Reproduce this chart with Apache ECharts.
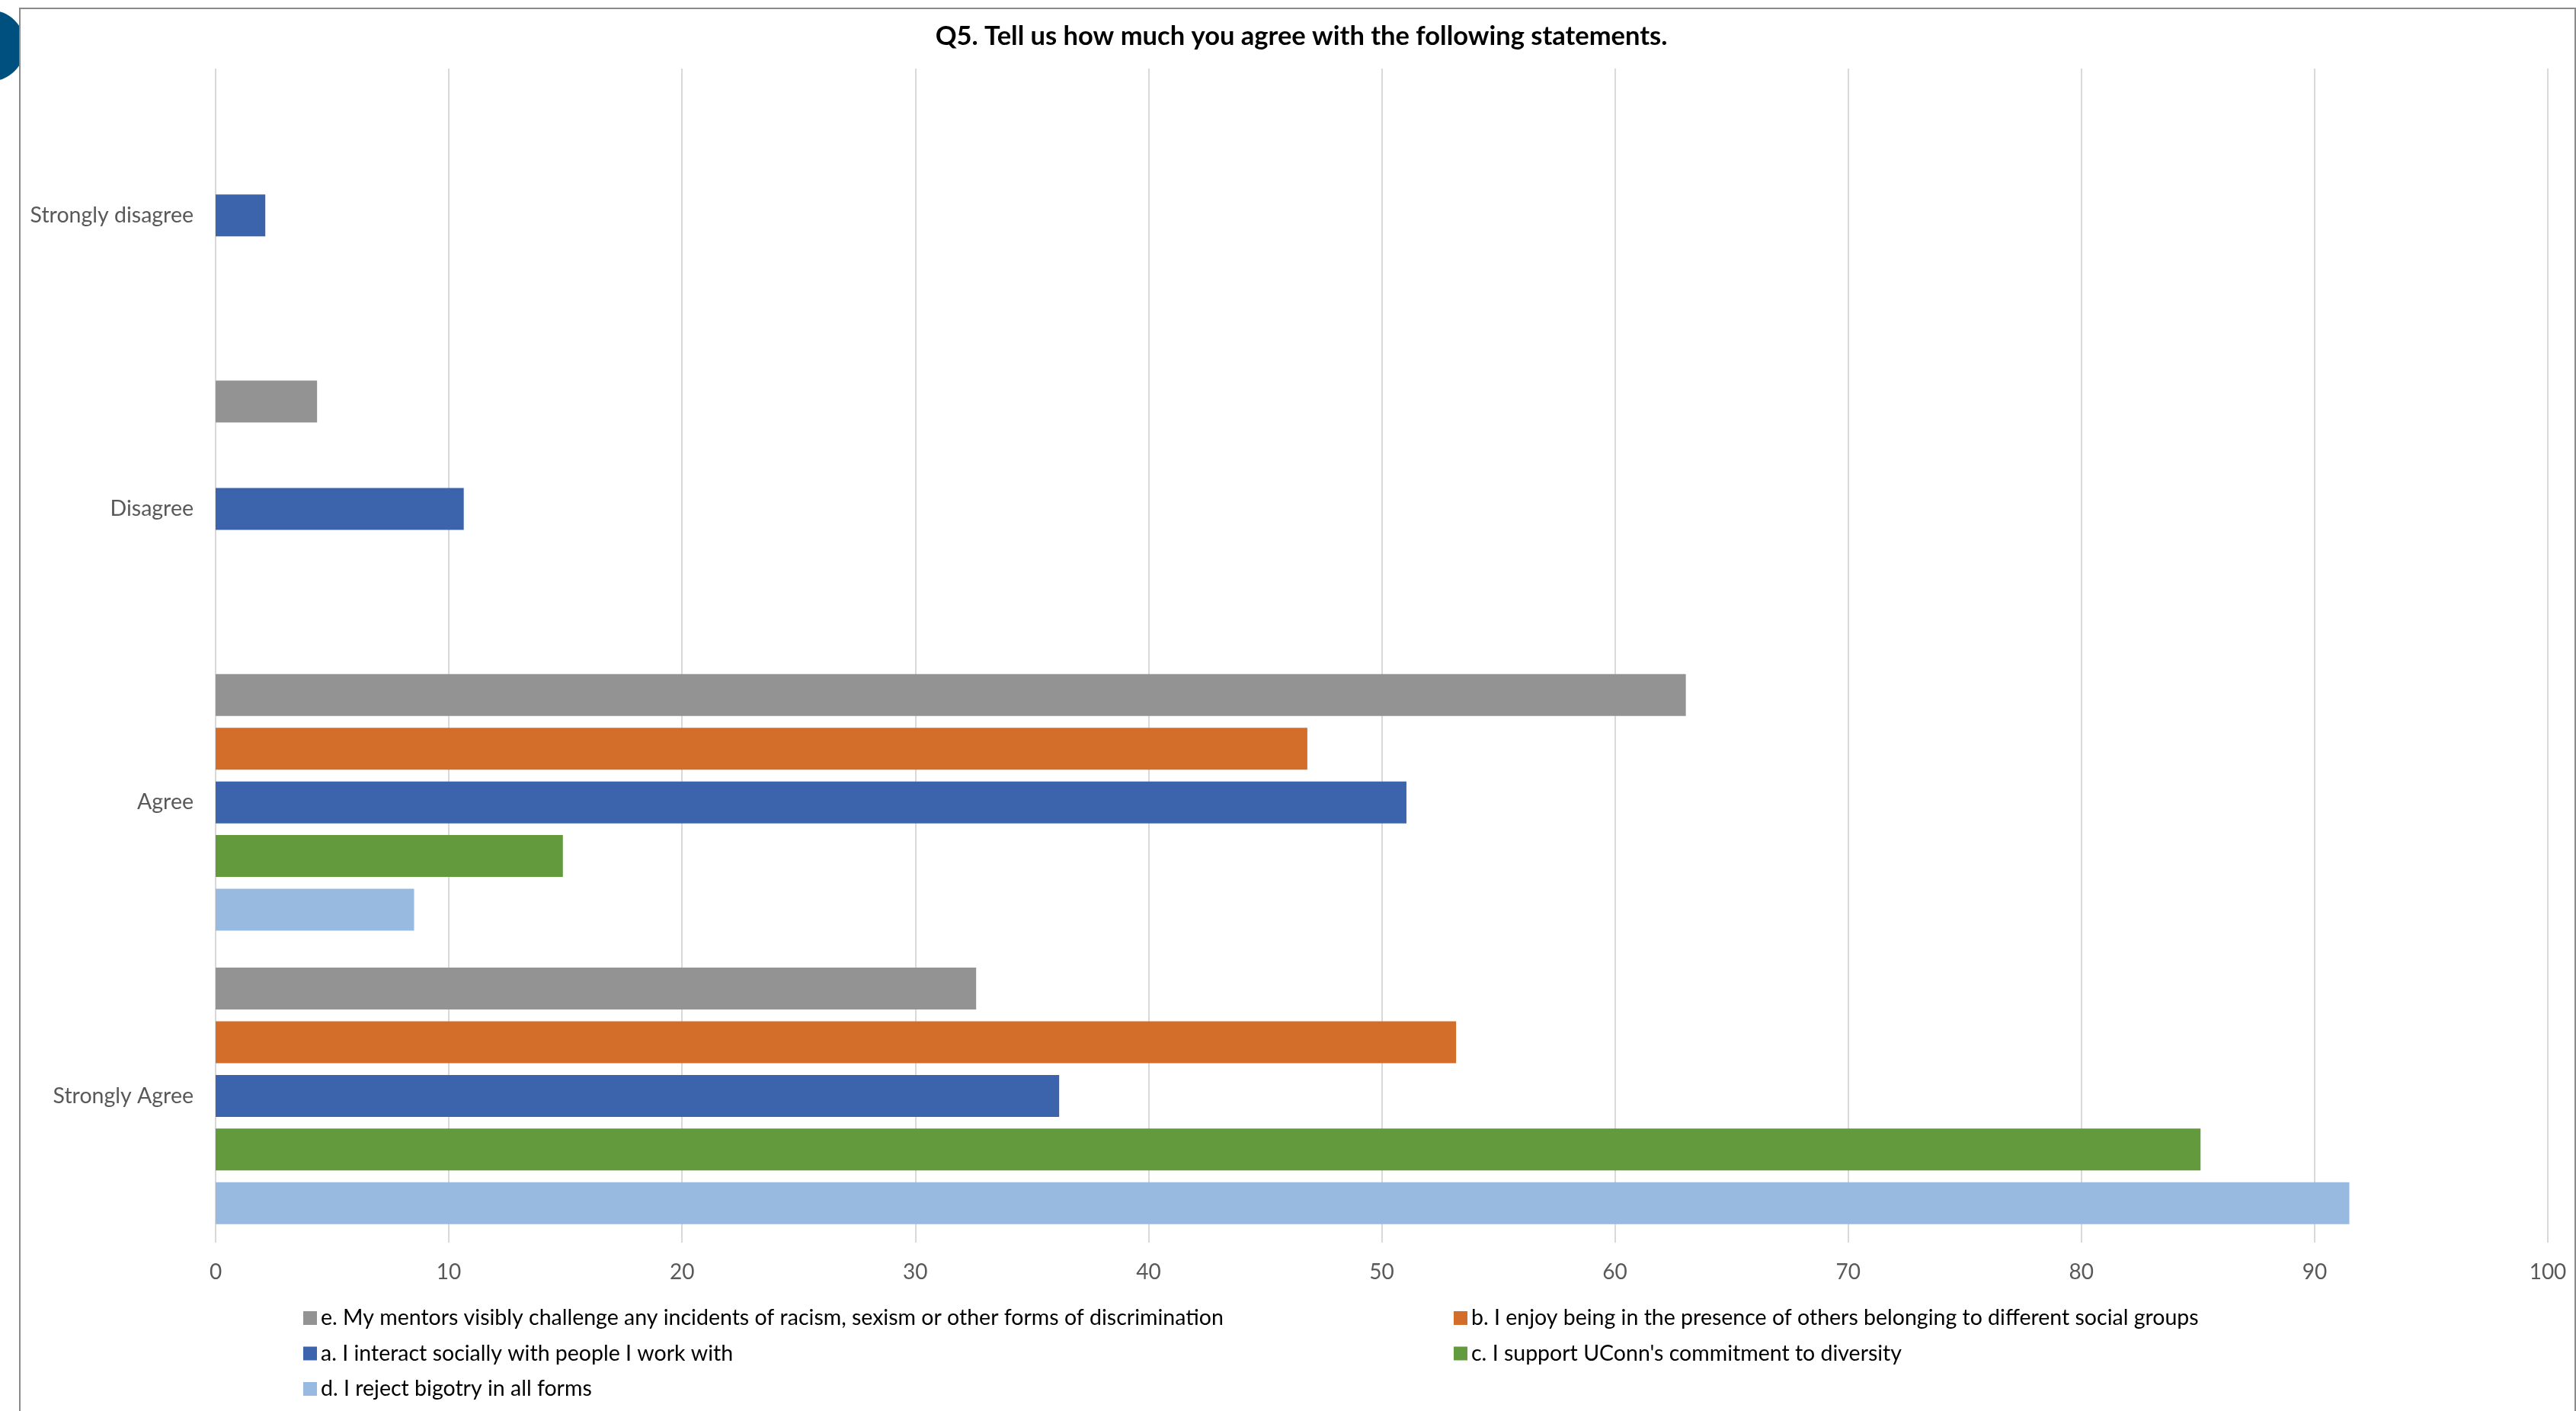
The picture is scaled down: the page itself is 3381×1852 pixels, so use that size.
<!DOCTYPE html>
<html>
<head>
<meta charset="utf-8">
<script src="https://cdn.jsdelivr.net/npm/echarts@6/dist/echarts.min.js"></script>
<style>
  html, body { margin: 0; padding: 0; background: #ffffff; }
  #chart { width: 3381px; height: 1852px; }
</style>
</head>
<body>
<div id="chart"></div>
<script>
// ---- data ----
const titleText = 'Q5. Tell us how much you agree with the following statements.';
const categories = ['Strongly Agree', 'Agree', 'Disagree', 'Strongly disagree'];
const seriesNames = [
  'e. My mentors visibly challenge any incidents of racism, sexism or other forms of discrimination',
  'b. I enjoy being in the presence of others belonging to different social groups',
  'a. I interact socially with people I work with',
  'c. I support UConn\'s commitment to diversity',
  'd. I reject bigotry in all forms'
];
// values per category: [Strongly Agree, Agree, Disagree, Strongly disagree]
const valuesE = [32.61, 63.04, 4.35, null];
const valuesB = [53.19, 46.81, null, null];
const valuesA = [36.17, 51.06, 10.64, 2.13];
const valuesC = [85.11, 14.89, null, null];
const valuesD = [91.49, 8.51, null, null];
const xTicks = [0, 100, 10]; // min, max, interval

const colors = ['#939393', '#D26E2A', '#3C64AC', '#639A3E', '#98B9E0'];
const allValues = [valuesE, valuesB, valuesA, valuesC, valuesD];

const FONT = 'Lato';

const chart = echarts.init(document.getElementById('chart'), null, { renderer: 'canvas' });

const series = seriesNames.map((name, i) => ({
  name: name,
  type: 'bar',
  data: allValues[i],
  barWidth: 55,
  barGap: '28%',
  itemStyle: { color: colors[i] },
  emphasis: { disabled: true }
}));

const legendText = { fontFamily: FONT, fontSize: 28.5, color: '#000000', lineHeight: 32 };

const option = {
  animation: false,
  backgroundColor: '#ffffff',
  title: {
    text: titleText,
    left: 1703,
    textAlign: 'center',
    top: 25,
    textStyle: { fontFamily: FONT, fontSize: 34.5, fontWeight: 'bold', color: '#000000' }
  },
  graphic: [
    { type: 'circle', z: -20, shape: { cx: -14, cy: 60, r: 47 }, style: { fill: '#00507F' }, silent: true },
    { type: 'rect', z: -10, shape: { x: 26, y: 11, width: 3354, height: 1900 }, style: { fill: '#ffffff', stroke: '#8a8a8a', lineWidth: 2 }, silent: true }
  ],
  grid: { left: 283, right: 37, top: 90, bottom: 221, containLabel: false },
  xAxis: {
    type: 'value',
    min: xTicks[0],
    max: xTicks[1],
    interval: xTicks[2],
    axisLine: { show: false },
    axisTick: { show: false },
    splitLine: { show: true, lineStyle: { color: '#D9D9D9', width: 2 } },
    axisLabel: { fontFamily: FONT, fontSize: 28, color: '#595959', margin: 25 }
  },
  yAxis: {
    type: 'category',
    data: categories,
    axisLine: { show: false },
    axisTick: { show: false },
    splitLine: { show: false },
    axisLabel: { fontFamily: FONT, fontSize: 28.5, color: '#595959', margin: 29 }
  },
  legend: [
    {
      data: [seriesNames[0], seriesNames[2], seriesNames[4]],
      orient: 'vertical',
      left: 393,
      top: 1709,
      itemWidth: 18,
      itemHeight: 18,
      itemGap: 14.5,
      icon: 'rect',
      selectedMode: false,
      textStyle: legendText
    },
    {
      data: [seriesNames[1], seriesNames[3]],
      orient: 'vertical',
      left: 1903,
      top: 1709,
      itemWidth: 18,
      itemHeight: 18,
      itemGap: 14.5,
      icon: 'rect',
      selectedMode: false,
      textStyle: legendText
    }
  ],
  series: series
};

chart.setOption(option);
</script>
</body>
</html>
